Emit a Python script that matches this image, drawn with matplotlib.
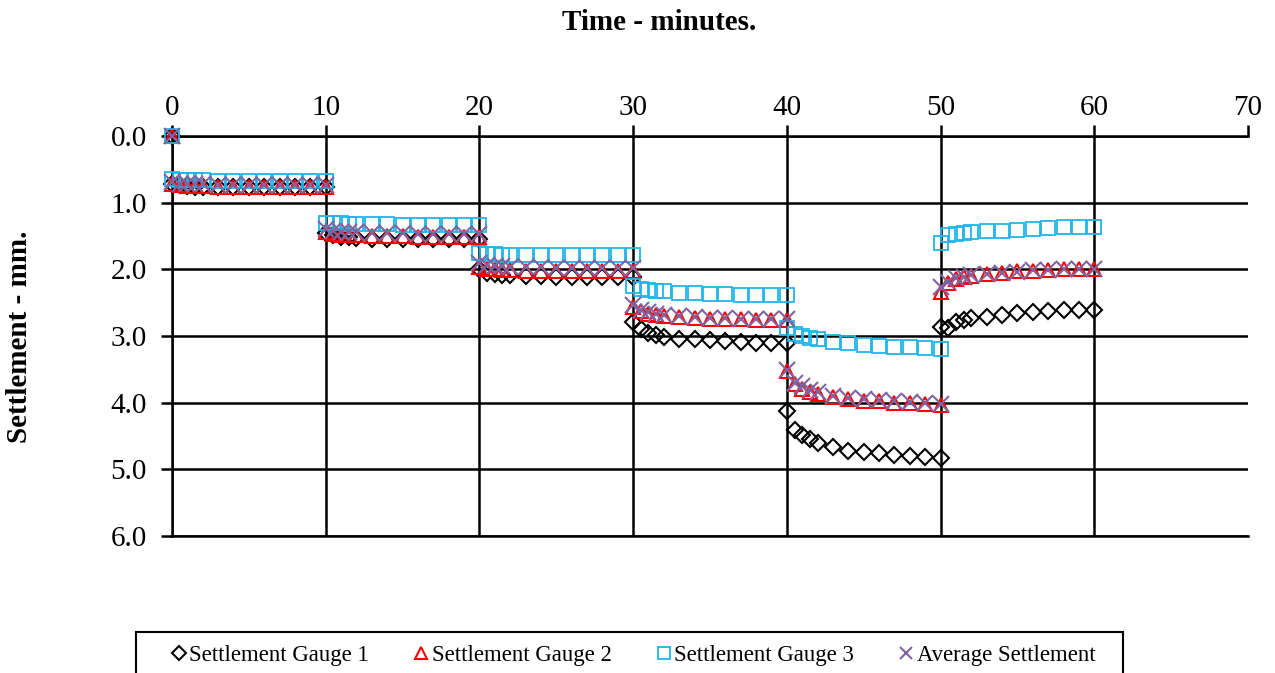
import numpy as np
import matplotlib.pyplot as plt
from matplotlib.patches import Rectangle

plt.rcParams['font.family'] = ['Liberation Serif', 'DejaVu Serif']

# reading times within each 10-minute load stage
stage_times = [0, 0.5, 1, 1.5, 2, 3, 4, 5, 6, 7, 8, 9, 10]
stage_starts = [0, 10, 20, 30, 40, 50]

# settlement readings (mm), one list per stage
gauge1 = [
    [0.72, 0.74, 0.75, 0.76, 0.76, 0.77, 0.77, 0.77, 0.77, 0.77, 0.77, 0.77, 0.77],
    [1.46, 1.49, 1.51, 1.52, 1.53, 1.54, 1.54, 1.54, 1.55, 1.55, 1.55, 1.55, 1.55],
    [2.00, 2.05, 2.07, 2.08, 2.09, 2.10, 2.10, 2.11, 2.11, 2.11, 2.12, 2.12, 2.12],
    [2.79, 2.90, 2.96, 2.99, 3.01, 3.04, 3.05, 3.06, 3.07, 3.09, 3.10, 3.10, 3.10],
    [4.12, 4.41, 4.48, 4.55, 4.60, 4.67, 4.72, 4.74, 4.76, 4.78, 4.80, 4.81, 4.83],
    [2.86, 2.88, 2.79, 2.76, 2.73, 2.71, 2.68, 2.66, 2.64, 2.62, 2.61, 2.61, 2.61],
]
gauge2 = [
    [0.72, 0.74, 0.75, 0.75, 0.75, 0.76, 0.76, 0.76, 0.76, 0.76, 0.76, 0.76, 0.76],
    [1.44, 1.47, 1.48, 1.49, 1.49, 1.50, 1.50, 1.50, 1.51, 1.51, 1.51, 1.51, 1.51],
    [1.96, 1.99, 2.00, 2.01, 2.01, 2.02, 2.02, 2.02, 2.03, 2.03, 2.03, 2.03, 2.03],
    [2.56, 2.63, 2.67, 2.69, 2.70, 2.72, 2.73, 2.74, 2.75, 2.75, 2.76, 2.76, 2.76],
    [3.53, 3.72, 3.79, 3.84, 3.87, 3.92, 3.95, 3.97, 3.98, 4.00, 4.01, 4.02, 4.03],
    [2.34, 2.20, 2.15, 2.12, 2.10, 2.07, 2.05, 2.03, 2.02, 2.01, 2.00, 2.00, 2.00],
]
gauge3 = [
    [0.65, 0.66, 0.66, 0.66, 0.66, 0.67, 0.67, 0.67, 0.67, 0.67, 0.67, 0.67, 0.67],
    [1.30, 1.31, 1.31, 1.32, 1.32, 1.32, 1.32, 1.33, 1.33, 1.33, 1.33, 1.33, 1.33],
    [1.76, 1.77, 1.77, 1.78, 1.78, 1.78, 1.78, 1.79, 1.79, 1.79, 1.79, 1.79, 1.79],
    [2.25, 2.29, 2.31, 2.32, 2.33, 2.35, 2.36, 2.37, 2.37, 2.38, 2.38, 2.38, 2.38],
    [2.88, 2.97, 3.00, 3.03, 3.05, 3.09, 3.11, 3.13, 3.15, 3.16, 3.17, 3.18, 3.20],
    [1.61, 1.49, 1.47, 1.46, 1.44, 1.43, 1.42, 1.41, 1.39, 1.38, 1.37, 1.37, 1.37],
]

# time axis: initial zero reading, then every stage
t = [0.0] + [s + dt for s in stage_starts for dt in stage_times]
g1 = np.array([0.0] + [v for st in gauge1 for v in st])
g2 = np.array([0.0] + [v for st in gauge2 for v in st])
g3 = np.array([0.0] + [v for st in gauge3 for v in st])
avg = (g1 + g2 + g3) / 3

fig = plt.figure(figsize=(12.75, 6.73), dpi=100)
ax = fig.add_axes([0.1349, 0.2036, 0.8439, 0.5943])

ax.plot(t, g1, ls='none', marker='D', ms=8.5, mfc='none', mec='black', mew=1.5,
        label='Settlement Gauge 1', zorder=5, clip_on=False)
ax.plot(t, g2, ls='none', marker='^', ms=10, mfc='none', mec='#FF0000', mew=1.5,
        label='Settlement Gauge 2', zorder=5, clip_on=False)
ax.plot(t, g3, ls='none', marker='s', ms=10, mfc='none', mec='#1FB5EA', mew=1.3,
        label='Settlement Gauge 3', zorder=5, clip_on=False)
ax.plot(t, avg, ls='none', marker='x', ms=11, mec='#8064A2', mew=1.5,
        label='Average Settlement', zorder=6, clip_on=False)

ax.set_xlim(0, 70)
ax.set_ylim(6, 0)
ax.set_xticks(np.arange(0, 71, 10))
ax.set_yticks(np.arange(0, 6.1, 1))
ax.set_yticklabels(['%.1f' % y for y in np.arange(0, 6.1, 1)])
ax.xaxis.tick_top()
ax.tick_params(axis='both', labelsize=21, length=8, width=1.8, direction='out')
ax.tick_params(axis='x', pad=3)
ax.tick_params(axis='y', pad=10)

ax.grid(True, color='black', linewidth=1.8)
ax.set_axisbelow(True)
ax.get_xgridlines()[-1].set_visible(False)
for side in ['left', 'top', 'bottom']:
    ax.spines[side].set_linewidth(1.8)
ax.spines['right'].set_visible(False)

fig.text(0.517, 0.967, 'Time - minutes.', ha='center', va='center',
         fontsize=21, fontweight='bold')
fig.text(0.015, 0.50, 'Settlement - mm.', ha='center', va='center',
         rotation=90, fontsize=21, fontweight='bold')

# legend box (frame drawn separately so it can be wider than the entries)
fig.patches.append(Rectangle((136 / 1275, -0.02), (1123 - 136) / 1275, 0.081,
                             transform=fig.transFigure, fill=False,
                             edgecolor='black', linewidth=1.5))
leg = fig.legend(loc='center', bbox_to_anchor=(0.497, 1 - 655 / 673), ncol=4,
                 fontsize=16.4, frameon=False,
                 handlelength=0.6, handletextpad=0.15, columnspacing=2.0,
                 borderpad=0.0, markerscale=0.85)

fig.savefig('out.png', dpi=100)
